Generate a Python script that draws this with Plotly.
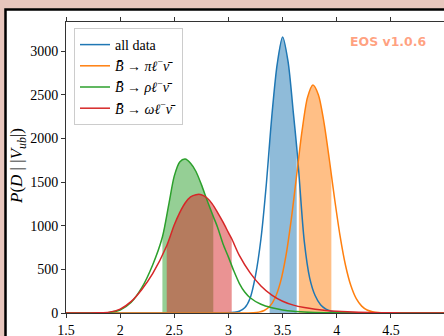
import plotly.graph_objects as go

# ---- data ----
blue_x = [1.5, 2.9, 3.0, 3.05, 3.1, 3.15, 3.2, 3.25, 3.3, 3.35, 3.38, 3.4, 3.45, 3.5, 3.55, 3.6, 3.63, 3.65, 3.7, 3.75, 3.8, 3.85, 3.9, 3.95, 4.0, 4.1, 4.2, 5.2]
blue_y = [0, 0, 3, 8, 20, 60, 170, 430, 850, 1480, 1950, 2250, 2850, 3160, 2880, 2280, 1900, 1600, 820, 400, 200, 95, 45, 20, 8, 2, 0, 0]

orange_x = [1.5, 3.1, 3.18, 3.23, 3.28, 3.33, 3.38, 3.43, 3.48, 3.53, 3.58, 3.63, 3.65, 3.68, 3.73, 3.78, 3.83, 3.88, 3.93, 3.95, 3.98, 4.03, 4.08, 4.13, 4.18, 4.23, 4.28, 4.33, 4.38, 4.48, 4.6, 5.2]
orange_y = [0, 0, 1, 3, 10, 29, 74, 172, 353, 651, 1073, 1583, 1793, 2090, 2469, 2610, 2500, 2195, 1769, 1583, 1306, 886, 550, 314, 164, 79, 34, 14, 5, 1, 0, 0]

green_x = [1.5, 1.8, 1.9, 2.0, 2.1, 2.2, 2.3, 2.39, 2.45, 2.5, 2.55, 2.6, 2.65, 2.7, 2.75, 2.8, 2.86, 2.9, 2.95, 3.0, 3.05, 3.1, 3.15, 3.2, 3.3, 3.4, 3.5, 3.6, 3.7, 3.8, 4.0, 4.3, 5.2]
green_y = [0, 0, 6, 34, 120, 290, 550, 870, 1250, 1570, 1730, 1762, 1715, 1620, 1470, 1300, 1105, 980, 790, 640, 480, 340, 240, 175, 100, 60, 35, 20, 12, 7, 2, 0, 0]

red_x = [1.5, 1.8, 1.9, 2.0, 2.1, 2.2, 2.3, 2.43, 2.5, 2.55, 2.6, 2.65, 2.7, 2.75, 2.8, 2.85, 2.9, 2.95, 3.0, 3.03, 3.1, 3.2, 3.3, 3.4, 3.5, 3.6, 3.7, 3.8, 3.9, 4.0, 4.1, 4.2, 4.4, 4.6, 5.2]
red_y = [0, 2, 10, 45, 130, 270, 450, 770, 1010, 1150, 1260, 1330, 1355, 1355, 1320, 1250, 1150, 1040, 920, 850, 660, 460, 310, 205, 135, 90, 62, 43, 30, 20, 13, 8, 3, 1, 0]

names = ["all data",
         "<i>B̄</i> → <i>πℓ</i><sup>−</sup><i>ν̄</i>",
         "<i>B̄</i> → <i>ρℓ</i><sup>−</sup><i>ν̄</i>",
         "<i>B̄</i> → <i>ωℓ</i><sup>−</sup><i>ν̄</i>"]
intervals = [(3.38, 3.63), (3.65, 3.95), (2.39, 2.86), (2.43, 3.03)]

x_ticks = [1.5, 2, 2.5, 3, 3.5, 4, 4.5, 5]
x_tick_text = ["1.5", "2", "2.5", "3", "3.5", "4", "4.5", "5"]
y_ticks = [0, 500, 1000, 1500, 2000, 2500, 3000]
y_tick_text = ["0", "500", "1000", "1500", "2000", "2500", "3000"]

colors = ["#1f77b4", "#ff7f0e", "#2ca02c", "#d62728"]
fills = ["rgba(31,119,180,0.5)", "rgba(255,127,14,0.5)", "rgba(44,160,44,0.5)", "rgba(214,39,40,0.5)"]
series = [(blue_x, blue_y), (orange_x, orange_y), (green_x, green_y), (red_x, red_y)]

fig = go.Figure()
for (xs, ys), (lo, hi), fc in zip(series, intervals, fills):
    sx = [x for x in xs if lo - 1e-9 <= x <= hi + 1e-9]
    sy = [y for x, y in zip(xs, ys) if lo - 1e-9 <= x <= hi + 1e-9]
    fig.add_trace(go.Scatter(x=sx, y=sy, mode="lines", line=dict(width=0, shape="spline"),
                             fill="tozeroy", fillcolor=fc, showlegend=False, hoverinfo="skip"))
for (xs, ys), c, n in zip(series, colors, names):
    fig.add_trace(go.Scatter(x=xs, y=ys, mode="lines", name=n,
                             line=dict(color=c, width=1.5, shape="spline", smoothing=0.8)))

W, H = 444, 336
L, R, T, B = 66, 0, 22, 23
pw, ph = W - L - R, H - T - B
def px(xp): return (xp - L) / pw
def py(yp): return (H - B - yp) / ph

serif = "Liberation Serif"
fig.update_layout(
    width=W, height=H,
    margin=dict(l=L, r=R, t=T, b=B, pad=0, autoexpand=False),
    paper_bgcolor="#e7c6bd", plot_bgcolor="white",
    font=dict(family=serif, size=14, color="black"),
    showlegend=True,
    legend=dict(x=px(74), y=py(28), xanchor="left", yanchor="top",
                bgcolor="rgba(255,255,255,0.8)", bordercolor="#cccccc", borderwidth=1,
                font=dict(family=serif, size=14), tracegroupgap=0, itemwidth=30),
    shapes=[dict(type="rect", xref="paper", yref="paper", layer="below",
                 x0=px(5.5), y0=py(9.5), x1=px(480), y1=py(380),
                 fillcolor="white", line=dict(color="black", width=2.5))],
    annotations=[
        dict(text="EOS v1.0.6", xref="paper", yref="paper", x=px(429), y=py(41),
             xanchor="right", yanchor="middle", showarrow=False,
             font=dict(family="DejaVu Sans", size=12.5, color="rgba(255,69,0,0.5)", weight="bold")),
        dict(text="<i>P</i>(<i>D</i> | |<i>V</i><sub><i>ub</i></sub>|)", xref="paper", yref="paper",
             x=px(18), y=py(166), xanchor="center", yanchor="middle", textangle=-90,
             showarrow=False, font=dict(family=serif, size=17)),
    ],
)
fig.update_xaxes(range=[1.5, 4.99], tickvals=x_ticks, ticktext=x_tick_text,
                 tickfont=dict(family=serif, size=14), ticklabeloverflow="allow", automargin=False,
                 showgrid=False, zeroline=False, showline=True, linecolor="#333", linewidth=1,
                 mirror="ticks", ticks="outside", ticklen=4, tickwidth=1, tickcolor="#333")
fig.update_yaxes(range=[0, 3332], tickvals=y_ticks, ticktext=y_tick_text, automargin=False,
                 tickfont=dict(family=serif, size=14),
                 showgrid=False, zeroline=False, showline=True, linecolor="#333", linewidth=1,
                 ticks="outside", ticklen=4, tickwidth=1, tickcolor="#333")

fig.write_html("out.html")
